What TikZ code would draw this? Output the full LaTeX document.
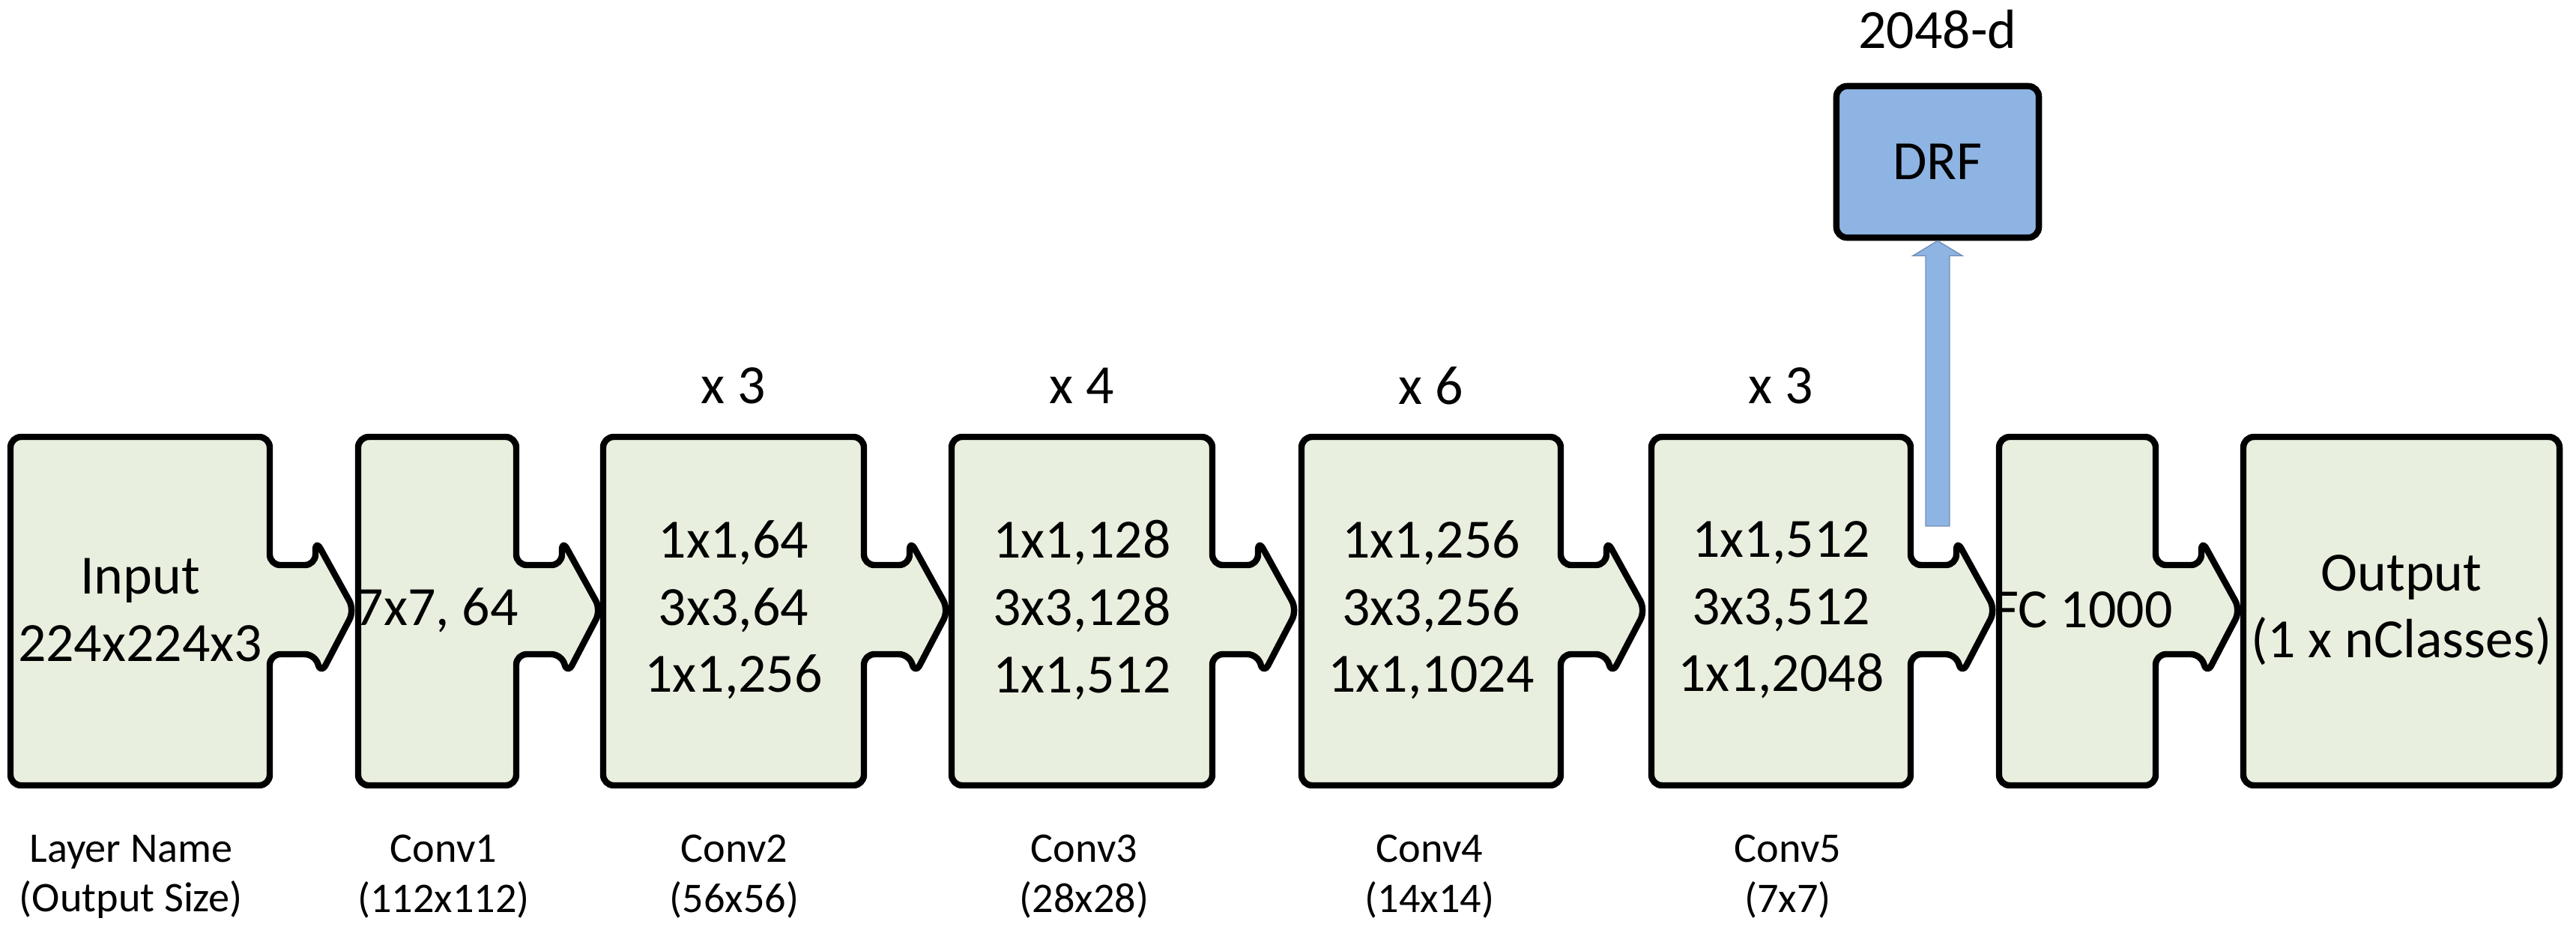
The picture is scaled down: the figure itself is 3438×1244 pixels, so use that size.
\documentclass[tikz,border=0pt]{standalone}
\usepackage{fontspec}
\setmainfont{Carlito}
\usetikzlibrary{positioning,calc}
\definecolor{blockgreen}{RGB}{233,239,222}
\definecolor{drfblue}{RGB}{142,180,227}
\newcommand{\bigtext}{\fontsize{21}{25.5}\selectfont}
\newcommand{\smalltext}{\fontsize{16}{19}\selectfont}
% one layer outline: left, right, with tab (1) or not (0)
\newcommand{\layerbox}[3]{%
  \ifnum#3=1
    \draw[blk] (#1,583) -- (#2,583) -- (#2,754) -- ({#2+61},754) -- ({#2+61},720)
      -- ({#2+113},814) -- ({#2+68},900) -- ({#2+61},873) -- (#2,873)
      -- (#2,1048) -- (#1,1048) -- cycle;
  \else
    \draw[blk] (#1,583) rectangle (#2,1048);
  \fi}
\begin{document}
\begin{tikzpicture}[x=0.01cm, y=-0.01cm,
    blk/.style={fill=blockgreen, draw=black, line width=2.4pt, rounded corners=4pt, line join=round},
    txt/.style={align=center, font=\bigtext, inner sep=0pt},
    lbl/.style={align=center, font=\smalltext, inner sep=0pt}]
        \useasboundingbox (0,0) rectangle (3438,1244);
        %blocks
        \layerbox{14}{360}{1}
        \layerbox{478}{689}{1}
        \layerbox{805}{1153}{1}
        \layerbox{1270}{1618}{1}
        \layerbox{1737}{2083}{1}
        \layerbox{2204}{2550}{1}
        \layerbox{2668}{2877}{1}
        \layerbox{2994}{3416}{0}
        %texts
        \node[txt] (input) at (187, 814) {Input\\224x224x3};
        \node[txt] (conv1) at (583, 814) {7x7, 64};
        \node[txt] (conv2) at (979, 814) {1x1,64\\3x3,64\\1x1,256};
        \node[txt] (conv3) at (1444, 814) {1x1,128\\3x3,128\\1x1,512};
        \node[txt] (conv4) at (1910, 814) {1x1,256\\3x3,256\\1x1,1024};
        \node[txt] (conv5) at (2377, 814) {1x1,512\\3x3,512\\1x1,2048};
        \node[txt] (fc) at (2780, 814) {FC 1000};
        \node[txt] (output) at (3205, 814) {Output\\(1 x nClasses)};
        %repeats
        \node[txt] (rep2) at (979, 515) {x 3};
        \node[txt] (rep3) at (1444, 515) {x 4};
        \node[txt] (rep4) at (1910, 515) {x 6};
        \node[txt] (rep5) at (2377, 515) {x 3};
        %layer names
        \node[lbl] (name0) at (175, 1170) {Layer Name\\(Output Size)};
        \node[lbl] (name1) at (592, 1170) {Conv1\\(112x112)};
        \node[lbl] (name2) at (980, 1170) {Conv2\\(56x56)};
        \node[lbl] (name3) at (1447, 1170) {Conv3\\(28x28)};
        \node[lbl] (name4) at (1908, 1170) {Conv4\\(14x14)};
        \node[lbl] (name5) at (2386, 1170) {Conv5\\(7x7)};
        %drf
        \node[draw, line width=2.4pt, fill=drfblue, rounded corners=4pt, minimum width=2.7cm,
              minimum height=2.02cm, font=\bigtext] (drf) at (2586, 216) {DRF};
        \node[txt, above=0.45cm of drf] (dim) {2048-d};
        \coordinate (tap) at (2586, 702);
        \draw[drfblue!80!black, fill=drfblue, line width=0.4pt]
          ($(tap)+(-16,0)$) -- ($(drf.south)+(-16,20)$) -- ($(drf.south)+(-33,20)$)
          -- (drf.south) -- ($(drf.south)+(33,20)$) -- ($(drf.south)+(16,20)$)
          -- ($(tap)+(16,0)$) -- cycle;
\end{tikzpicture}
\end{document}
